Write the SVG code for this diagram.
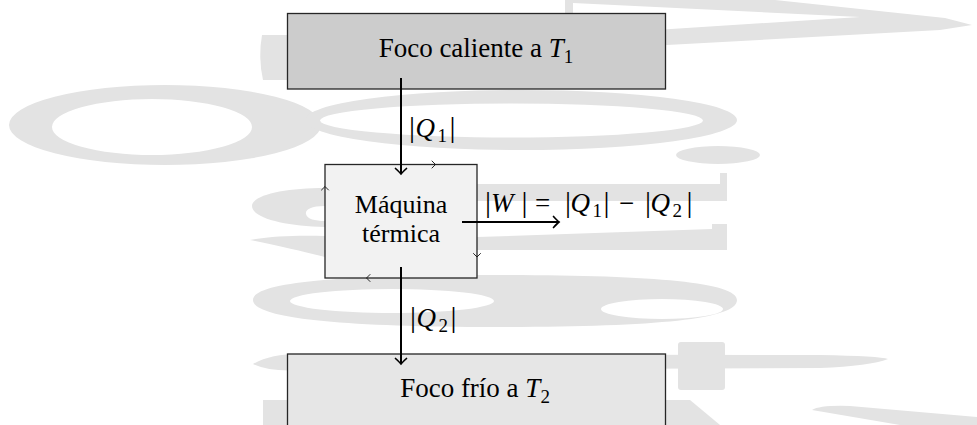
<svg xmlns="http://www.w3.org/2000/svg" width="977" height="425" viewBox="0 0 977 425">
  <defs>
    <style>
      .wm { fill: #e3e3e3; stroke: none; fill-rule: evenodd; }
      .box { stroke: #262626; stroke-width: 1.3; }
      .lbl { font-family: "Liberation Serif", "Times New Roman", serif; font-size: 26px; fill: #000; }
      .big { font-size: 27px; }
      .it { font-style: italic; }
      .sub { font-size: 19px; }
      .bar { font-size: 30px; }
      .conn { stroke: #000; stroke-width: 2; fill: none; }
      .tick { stroke: #111; stroke-width: 0.9; fill: none; stroke-linecap: round; stroke-linejoin: round; }
    </style>
    <marker id="ah" markerUnits="userSpaceOnUse" markerWidth="14" markerHeight="14" refX="0" refY="0" viewBox="-7 -7 14 14" orient="auto" overflow="visible">
      <path d="M-5.5,-5.5 Q-1.5,-1.2 0,0 Q-1.5,1.2 -5.5,5.5" fill="none" stroke="#000" stroke-width="1.7" stroke-linecap="round"/>
    </marker>
  </defs>
  <rect width="977" height="425" fill="#ffffff"/>
  <g id="watermark">
    <path class="wm" d="M565,0 L775,0 L945,18 L972,25 L940,30 L667,45 L565,46 Z M573,3 L860,17 L640,31 L573,31 Z"/>
    <path class="wm" d="M262,35 Q258,57 263,80 L290,80 L290,35 Z"/>
    <path class="wm" d="M9,125 A156,40 0 1 0 321,125 A156,40 0 1 0 9,125 Z M52,127 A100,28 0 1 0 252,127 A100,28 0 1 0 52,127 Z"/>
    <path class="wm" d="M305,120 A216,30 0 1 0 737,120 A216,30 0 1 0 305,120 Z M320,120.5 A191.5,17 0 1 0 703,120.5 A191.5,17 0 1 0 320,120.5 Z"/>
    <ellipse class="wm" cx="718" cy="155" rx="42" ry="9"/>
    <path class="wm" d="M477,184 L720,184 L720,173 L727,173 L727,201 L477,201 Z"/>
    <path class="wm" d="M477,237 L712,229 L712,224 L727,224 L727,250 L477,250 Z"/>
    <path class="wm" d="M325,188 C285,188 252,195 252,206 C252,218 285,226 325,227 Z M325,206 C310,206 305,210 306,214 C307,219 315,221 325,221 Z"/>
    <path class="wm" d="M250,240 C270,236 300,235 325,236 L325,257 C305,252 280,246 250,240 Z"/>
    <path class="wm" d="M253,300 C253,282 340,275 495,275 C650,275 737,282 737,300 C737,320 650,327 495,327 C340,327 253,318 253,300 Z M290,301 A102,12 0 1 0 494,301 A102,12 0 1 0 290,301 Z M601,309 A61,10 0 1 0 723,309 A61,10 0 1 0 601,309 Z"/>
    <path class="wm" d="M253,364 Q270,354 300,354 L820,355 Q880,356 888,359 Q870,366 820,368 L300,370 Q270,372 253,364 Z"/>
    <rect class="wm" x="678" y="342" width="47" height="48" rx="3"/>
    <path class="wm" d="M812,410 Q820,405 850,406 L977,417 L977,425 L900,425 Z"/>
    <path class="wm" d="M666,400 L690,400 L720,425 L666,425 Z"/>
    <rect class="wm" x="263" y="400" width="24" height="25"/>
  </g>
  <g id="node-hot">
    <rect class="box" x="287.5" y="13.5" width="378" height="75.5" fill="#cccccc"/>
    <text class="lbl big" x="476" y="57" text-anchor="middle">Foco caliente a <tspan class="it">T</tspan><tspan class="sub" dy="6">1</tspan></text>
  </g>
  <g id="node-engine">
    <rect class="box" x="325" y="164.5" width="152" height="113.5" fill="#f2f2f2"/>
    <path class="tick" d="M432,161 L435.5,164.5 L432,168"/>
    <path class="tick" d="M321.5,190 L325,186.5 L328.5,190"/>
    <path class="tick" d="M473.5,253.5 L477,257 L480.5,253.5"/>
    <path class="tick" d="M370,274.5 L366.5,278 L370,281.5"/>
    <text class="lbl" x="401" y="212.5" text-anchor="middle">Máquina</text>
    <text class="lbl" x="401" y="242" text-anchor="middle">térmica</text>
  </g>
  <g id="node-cold">
    <rect class="box" x="287.5" y="354" width="378" height="90" fill="#e6e6e6"/>
    <text class="lbl big" x="475" y="397" text-anchor="middle">Foco frío a <tspan class="it">T</tspan><tspan class="sub" dy="6">2</tspan></text>
  </g>
  <g id="connectors">
    <line class="conn" x1="401" y1="78" x2="401" y2="174" marker-end="url(#ah)"/>
    <line class="conn" x1="401" y1="267" x2="401" y2="364" marker-end="url(#ah)"/>
    <line class="conn" x1="462" y1="222" x2="559" y2="222" marker-end="url(#ah)"/>
    <text class="lbl big" y="137"><tspan class="bar" x="409">|</tspan><tspan class="it" x="415.5">Q</tspan><tspan class="sub" x="437.5" y="142">1</tspan><tspan class="bar" x="449.5" y="137">|</tspan></text>
    <text class="lbl big" y="327"><tspan class="bar" x="410">|</tspan><tspan class="it" x="416.5">Q</tspan><tspan class="sub" x="438.5" y="332">2</tspan><tspan class="bar" x="450.5" y="327">|</tspan></text>
    <text class="lbl big" y="211.5"><tspan class="bar" x="485">|</tspan><tspan class="it" x="491">W</tspan><tspan class="bar" x="521.5">|</tspan><tspan x="535">=</tspan><tspan class="bar" x="565">|</tspan><tspan class="it" x="570.5">Q</tspan><tspan class="sub" x="592.5" y="216.5">1</tspan><tspan class="bar" x="603.5" y="211.5">|</tspan><tspan x="619">−</tspan><tspan class="bar" x="645">|</tspan><tspan class="it" x="650.5">Q</tspan><tspan class="sub" x="672.5" y="216.5">2</tspan><tspan class="bar" x="686.5" y="211.5">|</tspan></text>
  </g>
</svg>
